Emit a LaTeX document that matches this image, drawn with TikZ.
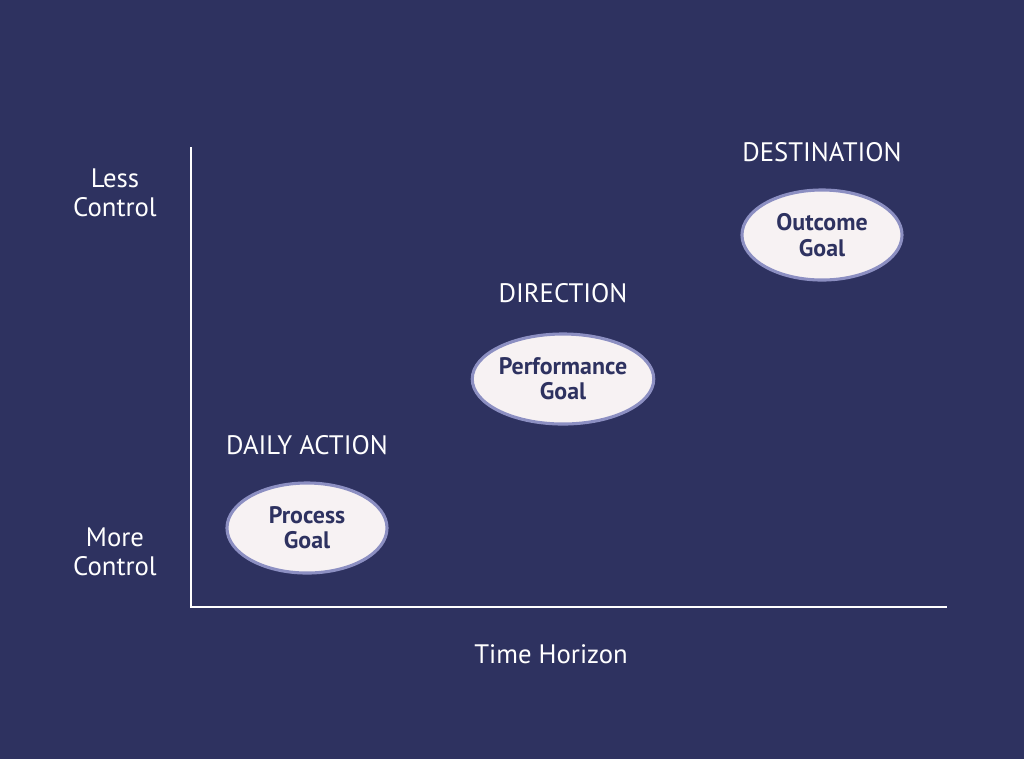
\documentclass[tikz,border=0pt]{standalone}
\usepackage{fontspec}
\setmainfont{PT Sans}
\usetikzlibrary{shapes.geometric}
\definecolor{bgnavy}{HTML}{2E3260}
\definecolor{goalfill}{HTML}{F7F2F3}
\definecolor{goalrim}{HTML}{8C8FC2}
\tikzset{
  goal/.style={draw=goalrim, line width=2.2pt, fill=goalfill, ellipse,
    minimum width=4cm, minimum height=2.25cm, inner sep=0pt, align=center,
    text=bgnavy, font=\fontsize{17}{18}\selectfont\bfseries},
  tag/.style={text=white, align=center, font=\fontsize{19}{21}\selectfont},
  axis/.style={draw=white, line width=2.1pt}
}
\begin{document}
\begin{tikzpicture}[x=0.025cm, y=-0.025cm]
\fill[bgnavy] (0,0) rectangle (1024,759);
% axes
\coordinate (top) at (191,147);
\coordinate (origin) at (191,607);
\coordinate (right) at (947,607);
\draw[axis] (top) -- (origin) -- (right);
\node[tag] (less) at (115,193) {Less\\Control};
\node[tag] (more) at (115,552) {More\\Control};
\node[tag] (time) at (551,654) {Time Horizon};
% goals
\node[goal] (process) at (307,528) {Process\\Goal};
\node[goal] (perf) at (563,379) {Performance\\Goal};
\node[goal] (outcome) at (822,235) {Outcome\\Goal};
\node[tag] (daily) at (307,445) {DAILY ACTION};
\node[tag] (direction) at (563,293) {DIRECTION};
\node[tag] (dest) at (822,152) {DESTINATION};
\end{tikzpicture}
\end{document}
